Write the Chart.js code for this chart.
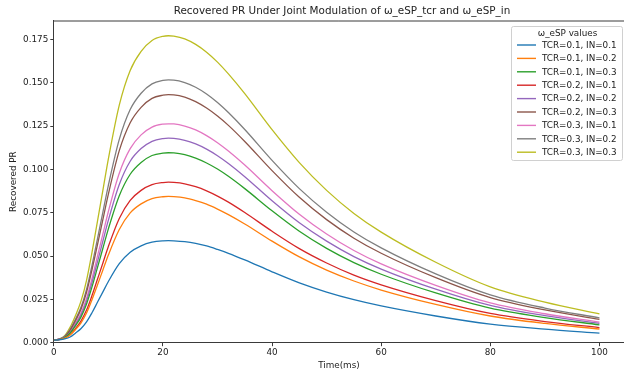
<!DOCTYPE html>
<html>
<head>
<meta charset="utf-8">
<script src="https://cdn.jsdelivr.net/npm/chart.js@4/dist/chart.umd.min.js"></script>
<style>
  html, body { margin: 0; padding: 0; background: #fff; overflow: hidden; }
  #wrap { width: 624px; height: 371px; position: relative; }
</style>
</head>
<body>
<div id="wrap"><canvas id="pr_chart"></canvas></div>
<script>
// time points (ms)
const times = [0,1,2,3,4,5,6,7,8,9,10,12,14,16,18,20,21,22,24,26,28,30,32,35,40,45,50,55,60,70,80,90,100];

const tcr01_in01 = [0.0015,0.0017,0.0022,0.0033,0.0056,0.0082,0.0120,0.0173,0.0233,0.0293,0.0353,0.0456,0.0522,0.0559,0.0580,0.0588,0.0589,0.0588,0.0583,0.0573,0.0558,0.0538,0.0516,0.0478,0.0409,0.0345,0.0292,0.0248,0.0212,0.0154,0.0107,0.0078,0.0055];
const tcr01_in02 = [0.0015,0.0018,0.0026,0.0044,0.0076,0.0115,0.0171,0.0248,0.0333,0.0420,0.0506,0.0653,0.0749,0.0801,0.0831,0.0842,0.0844,0.0843,0.0836,0.0820,0.0799,0.0771,0.0739,0.0685,0.0586,0.0495,0.0419,0.0356,0.0304,0.0221,0.0154,0.0111,0.0079];
const tcr01_in03 = [0.0015,0.0019,0.0030,0.0056,0.0099,0.0149,0.0223,0.0322,0.0433,0.0545,0.0657,0.0848,0.0972,0.1040,0.1080,0.1094,0.1096,0.1095,0.1085,0.1065,0.1037,0.1002,0.0960,0.0889,0.0761,0.0643,0.0544,0.0462,0.0395,0.0287,0.0199,0.0145,0.0103];
const tcr02_in01 = [0.0015,0.0018,0.0027,0.0047,0.0083,0.0126,0.0188,0.0272,0.0366,0.0460,0.0555,0.0717,0.0821,0.0879,0.0912,0.0924,0.0926,0.0925,0.0917,0.0900,0.0876,0.0846,0.0811,0.0751,0.0643,0.0543,0.0460,0.0390,0.0334,0.0243,0.0169,0.0122,0.0087];
const tcr02_in02 = [0.0015,0.0020,0.0031,0.0060,0.0106,0.0161,0.0240,0.0347,0.0466,0.0587,0.0707,0.0913,0.1047,0.1120,0.1162,0.1178,0.1180,0.1179,0.1168,0.1147,0.1117,0.1079,0.1034,0.0958,0.0819,0.0692,0.0586,0.0497,0.0425,0.0309,0.0215,0.0156,0.0111];
const tcr02_in03 = [0.0015,0.0020,0.0035,0.0073,0.0129,0.0195,0.0291,0.0421,0.0565,0.0711,0.0857,0.1108,0.1269,0.1358,0.1410,0.1428,0.1431,0.1430,0.1417,0.1391,0.1354,0.1308,0.1254,0.1161,0.0993,0.0839,0.0710,0.0603,0.0516,0.0375,0.0260,0.0189,0.0135];
const tcr03_in01 = [0.0015,0.0020,0.0032,0.0064,0.0114,0.0172,0.0256,0.0371,0.0499,0.0628,0.0757,0.0978,0.1120,0.1199,0.1244,0.1261,0.1263,0.1262,0.1250,0.1228,0.1195,0.1154,0.1106,0.1025,0.0877,0.0741,0.0627,0.0532,0.0455,0.0331,0.0230,0.0167,0.0119];
const tcr03_in02 = [0.0015,0.0021,0.0037,0.0077,0.0136,0.0206,0.0308,0.0446,0.0599,0.0754,0.0908,0.1173,0.1345,0.1439,0.1493,0.1513,0.1516,0.1515,0.1501,0.1474,0.1435,0.1386,0.1328,0.1230,0.1052,0.0889,0.0753,0.0639,0.0547,0.0397,0.0276,0.0200,0.0143];
const tcr03_in03 = [0.0015,0.0021,0.0041,0.0090,0.0159,0.0241,0.0360,0.0521,0.0700,0.0880,0.1061,0.1371,0.1571,0.1681,0.1744,0.1768,0.1771,0.1769,0.1753,0.1721,0.1676,0.1619,0.1551,0.1437,0.1229,0.1039,0.0879,0.0746,0.0638,0.0464,0.0322,0.0234,0.0166];

const seriesLabels = ["TCR=0.1, IN=0.1", "TCR=0.1, IN=0.2", "TCR=0.1, IN=0.3",
                      "TCR=0.2, IN=0.1", "TCR=0.2, IN=0.2", "TCR=0.2, IN=0.3",
                      "TCR=0.3, IN=0.1", "TCR=0.3, IN=0.2", "TCR=0.3, IN=0.3"];
const seriesValues = [tcr01_in01, tcr01_in02, tcr01_in03, tcr02_in01, tcr02_in02, tcr02_in03, tcr03_in01, tcr03_in02, tcr03_in03];
const colors = ["#1f77b4", "#ff7f0e", "#2ca02c", "#d62728", "#9467bd", "#8c564b", "#e377c2", "#7f7f7f", "#bcbd22"];

const xTicks = [0, 20, 40, 60, 80, 100];
const yTicks = [0, 0.025, 0.05, 0.075, 0.1, 0.125, 0.15, 0.175];

const chartTitle = "Recovered PR Under Joint Modulation of ω_eSP_tcr and ω_eSP_in";
const legendTitle = "ω_eSP values";
const FONT = "'DejaVu Sans', sans-serif";
const AXIS = "#3a3a3a";

// title, top spine and matplotlib style legend
const decorations = {
    id: "decorations",
    afterDraw(chart) {
        const ctx = chart.ctx;
        const area = chart.chartArea;
        ctx.save();
        ctx.strokeStyle = AXIS;
        ctx.lineWidth = 1;
        ctx.beginPath();
        ctx.moveTo(area.left, area.top + 0.5);
        ctx.lineTo(area.right, area.top + 0.5);
        ctx.stroke();

        ctx.fillStyle = "#222";
        ctx.font = "10.4px " + FONT;
        ctx.textAlign = "center";
        ctx.textBaseline = "middle";
        ctx.fillText(chartTitle, 342, 11);

        // legend box
        const bx = 511, by = 26, bw = 111, bh = 134;
        ctx.fillStyle = "rgba(255,255,255,0.85)";
        ctx.strokeStyle = "#d0d0d0";
        ctx.lineWidth = 1;
        ctx.beginPath();
        ctx.roundRect(bx + 0.5, by + 0.5, bw, bh, 2);
        ctx.fill();
        ctx.stroke();

        ctx.font = "8.8px " + FONT;
        ctx.fillStyle = "#222";
        ctx.textAlign = "center";
        ctx.fillText(legendTitle, bx + bw / 2 + 1, by + 8);
        ctx.textAlign = "left";
        chart.data.datasets.forEach(function (ds, i) {
            const yy = by + 19 + i * 13.4;
            ctx.strokeStyle = ds.borderColor;
            ctx.lineWidth = 1.4;
            ctx.beginPath();
            ctx.moveTo(bx + 6, yy);
            ctx.lineTo(bx + 25, yy);
            ctx.stroke();
            ctx.fillStyle = "#222";
            ctx.fillText(ds.label, bx + 31, yy + 0.5);
        });
        ctx.restore();
    }
};

new Chart(document.getElementById("pr_chart").getContext("2d"), {
    type: "line",
    data: {
        datasets: seriesValues.map(function (vals, i) {
            return {
                label: seriesLabels[i],
                data: times.map(function (t, j) { return { x: t, y: vals[j] }; }),
                borderColor: colors[i],
                backgroundColor: colors[i],
                borderWidth: 1.3,
                pointRadius: 0,
                fill: false,
                cubicInterpolationMode: "monotone"
            };
        })
    },
    options: {
        responsive: true,
        maintainAspectRatio: false,
        animation: false,
        layout: { padding: { top: 20.5, right: 0, left: 0, bottom: 0 } },
        plugins: { legend: { display: false }, title: { display: false }, tooltip: { enabled: false } },
        scales: {
            x: {
                type: "linear",
                min: 0,
                max: 104.5,
                afterBuildTicks: function (axis) { axis.ticks = xTicks.map(function (v) { return { value: v }; }); },
                afterFit: function (axis) { axis.height = 28.3; },
                ticks: { color: "#222", font: { family: FONT, size: 8.8 }, padding: 1, maxRotation: 0 },
                grid: { display: true, drawOnChartArea: false, tickLength: 3.5, tickColor: AXIS },
                border: { display: true, color: AXIS, width: 1 },
                title: { display: true, text: "Time(ms)", color: "#222", font: { family: FONT, size: 8.8 }, padding: { top: 0, bottom: 0 } }
            },
            y: {
                min: 0,
                max: 0.1859,
                afterBuildTicks: function (axis) { axis.ticks = yTicks.map(function (v) { return { value: v }; }); },
                afterFit: function (axis) { axis.width = 53.8; },
                ticks: {
                    color: "#222",
                    font: { family: FONT, size: 8.8 },
                    padding: 2,
                    callback: function (v) { return Number(v).toFixed(3); }
                },
                grid: { display: true, drawOnChartArea: false, tickLength: 3.5, tickColor: AXIS },
                border: { display: true, color: AXIS, width: 1 },
                title: { display: true, text: "Recovered PR", color: "#222", font: { family: FONT, size: 8.8 }, padding: { top: 8, bottom: 4 } }
            }
        }
    },
    plugins: [decorations]
});
</script>
</body>
</html>
